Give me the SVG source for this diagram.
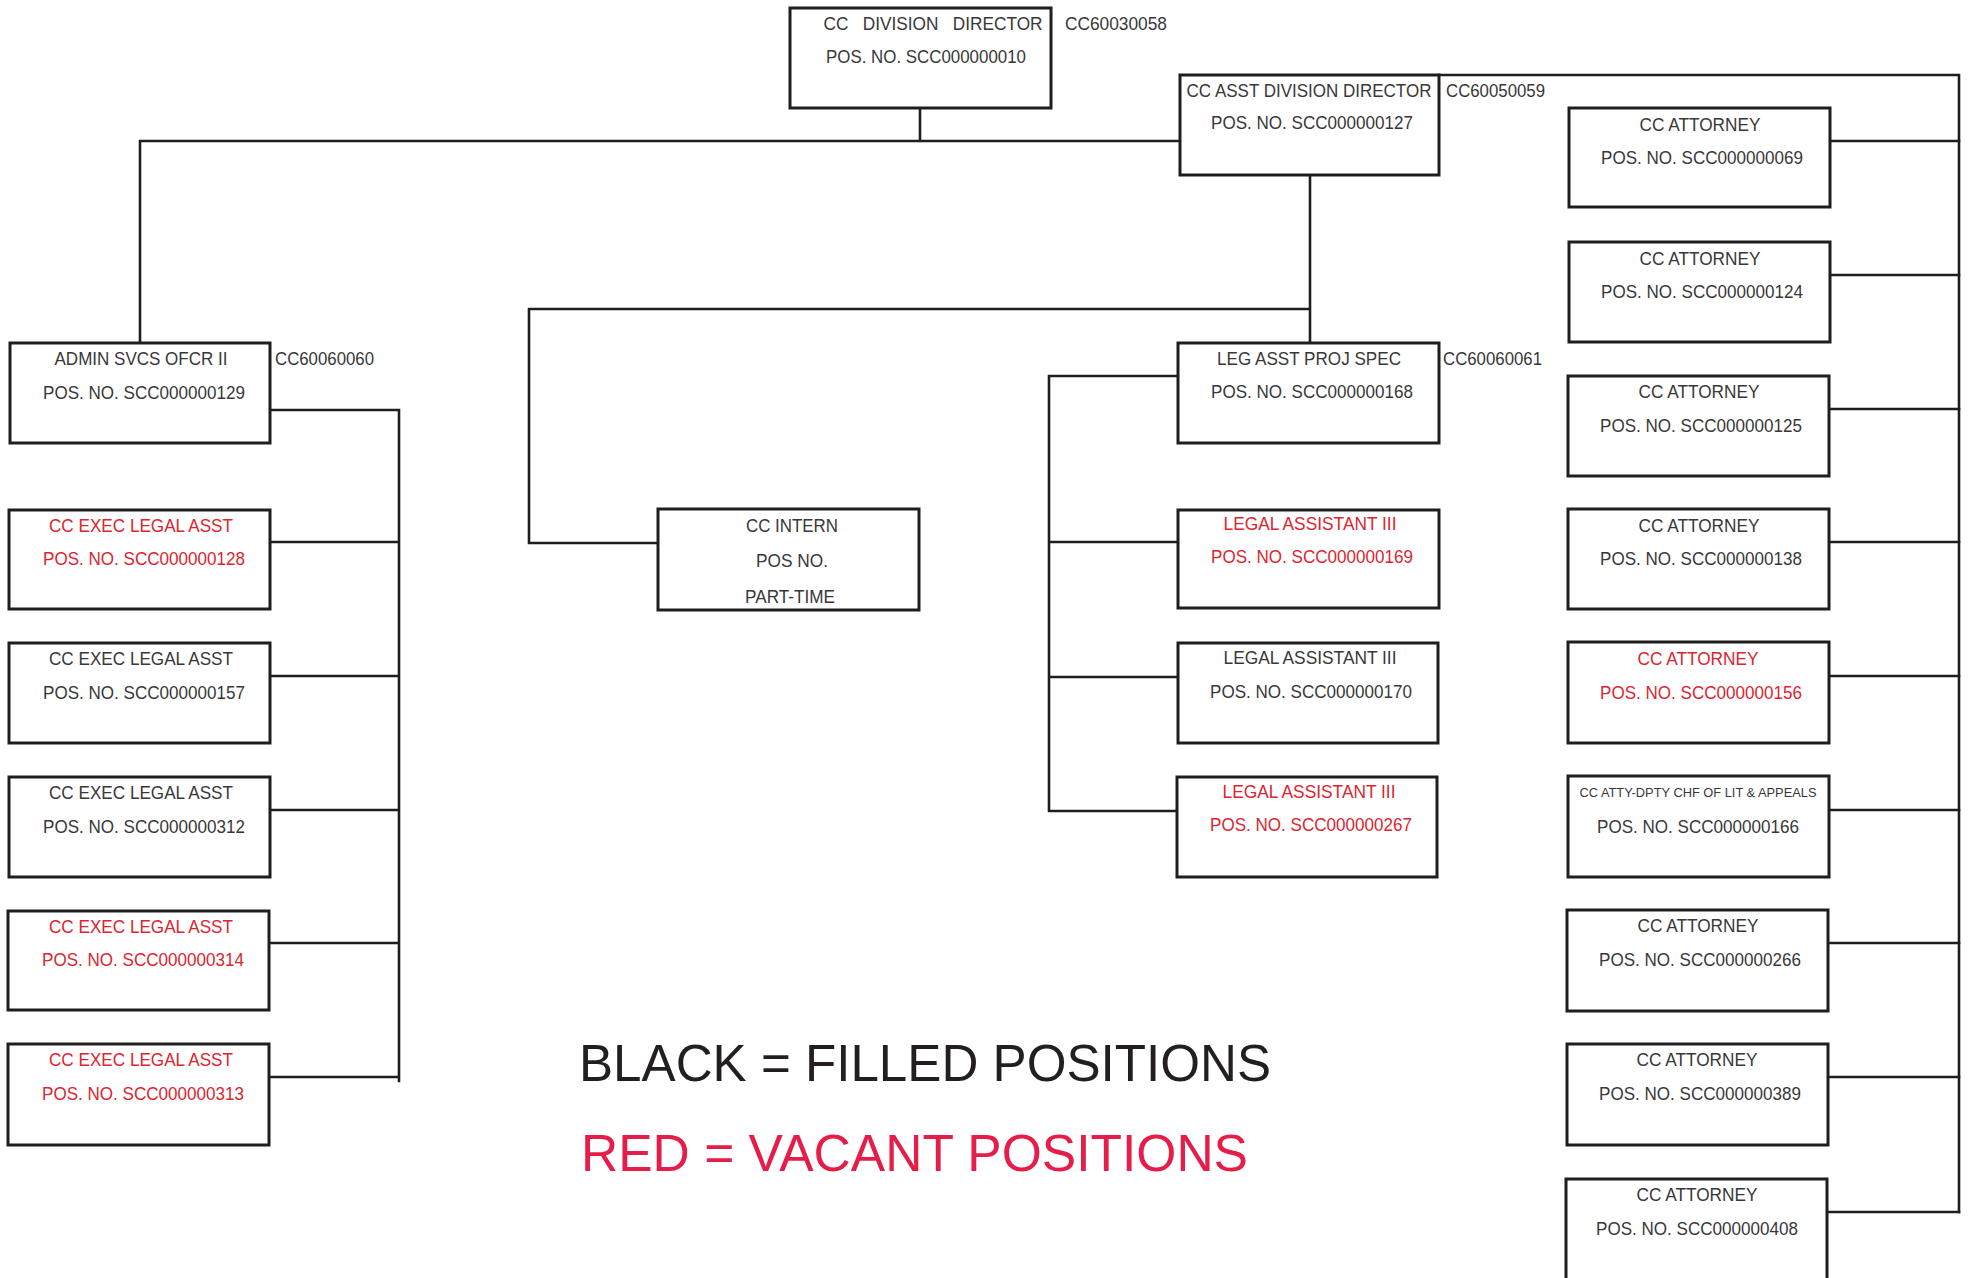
<svg xmlns="http://www.w3.org/2000/svg" width="1969" height="1278" viewBox="0 0 1969 1278">
<style>
.box{fill:#fff;stroke:#1e1e1e;stroke-width:3}
.ln{fill:none;stroke:#1e1e1e;stroke-width:2.6;stroke-linecap:square}
.t{font-family:"Liberation Sans",Arial,sans-serif;font-size:19px;fill:#383838;text-anchor:middle}
.r{fill:#dc2530}
.code{font-family:"Liberation Sans",Arial,sans-serif;font-size:19px;fill:#383838}
.sm{font-size:13.5px}
.lg{font-family:"Liberation Sans",Arial,sans-serif;font-size:51px}
</style>
<rect width="1969" height="1278" fill="#fff"/>
<g id="connectors">
<path class="ln" d="M920 108V141M140 141H1180M140 141V343"/>
<path class="ln" d="M1439 75H1959V1212"/>
<path class="ln" d="M1829 141H1959M1829 275H1959M1829 409H1959M1829 542H1959M1829 676H1959M1829 810H1959M1829 943H1959M1829 1077H1959M1829 1212H1959"/>
<path class="ln" d="M1310 175V343M529 309H1310M529 309V543H658"/>
<path class="ln" d="M1178 376H1049V811M1049 542H1178M1049 677H1178M1049 811H1178"/>
<path class="ln" d="M270 410H399V1081M270 542H399M270 676H399M270 810H399M270 943H399M270 1077H399"/>
</g>
<g id="director">
<rect class="box" x="790" y="8" width="261" height="100"/>
<text class="t" x="933" y="30" textLength="219" lengthAdjust="spacingAndGlyphs" xml:space="preserve" style="white-space:pre">CC   DIVISION   DIRECTOR</text>
<text class="t" x="926" y="63" textLength="200" lengthAdjust="spacingAndGlyphs">POS. NO. SCC000000010</text>
<text class="code" x="1065" y="30" textLength="102" lengthAdjust="spacingAndGlyphs">CC60030058</text>
</g>
<g id="asst-director">
<rect class="box" x="1180" y="75" width="259" height="100"/>
<text class="t" transform="translate(1309 97) scale(0.895 1)" x="0" y="0">CC ASST DIVISION DIRECTOR</text>
<text class="t" x="1312" y="129" textLength="202" lengthAdjust="spacingAndGlyphs">POS. NO. SCC000000127</text>
<text class="code" x="1446" y="97" textLength="99" lengthAdjust="spacingAndGlyphs">CC60050059</text>
</g>
<g id="admin">
<rect class="box" x="10" y="343" width="260" height="100"/>
<text class="t" x="141" y="365" textLength="173" lengthAdjust="spacingAndGlyphs">ADMIN SVCS OFCR II</text>
<text class="t" x="144" y="399" textLength="202" lengthAdjust="spacingAndGlyphs">POS. NO. SCC000000129</text>
<text class="code" x="275" y="365" textLength="99" lengthAdjust="spacingAndGlyphs">CC60060060</text>
</g>
<g id="exec128">
<rect class="box" x="9" y="510" width="261" height="99"/>
<text class="t r" x="141" y="532" textLength="184" lengthAdjust="spacingAndGlyphs">CC EXEC LEGAL ASST</text>
<text class="t r" x="144" y="565" textLength="202" lengthAdjust="spacingAndGlyphs">POS. NO. SCC000000128</text>
</g>
<g id="exec157">
<rect class="box" x="9" y="643" width="261" height="100"/>
<text class="t" x="141" y="665" textLength="184" lengthAdjust="spacingAndGlyphs">CC EXEC LEGAL ASST</text>
<text class="t" x="144" y="699" textLength="202" lengthAdjust="spacingAndGlyphs">POS. NO. SCC000000157</text>
</g>
<g id="exec312">
<rect class="box" x="9" y="777" width="261" height="100"/>
<text class="t" x="141" y="799" textLength="184" lengthAdjust="spacingAndGlyphs">CC EXEC LEGAL ASST</text>
<text class="t" x="144" y="833" textLength="202" lengthAdjust="spacingAndGlyphs">POS. NO. SCC000000312</text>
</g>
<g id="exec314">
<rect class="box" x="8" y="911" width="261" height="99"/>
<text class="t r" x="141" y="933" textLength="184" lengthAdjust="spacingAndGlyphs">CC EXEC LEGAL ASST</text>
<text class="t r" x="143" y="966" textLength="202" lengthAdjust="spacingAndGlyphs">POS. NO. SCC000000314</text>
</g>
<g id="exec313">
<rect class="box" x="8" y="1044" width="261" height="101"/>
<text class="t r" x="141" y="1066" textLength="184" lengthAdjust="spacingAndGlyphs">CC EXEC LEGAL ASST</text>
<text class="t r" x="143" y="1100" textLength="202" lengthAdjust="spacingAndGlyphs">POS. NO. SCC000000313</text>
</g>
<g id="intern">
<rect class="box" x="658" y="509" width="261" height="101"/>
<text class="t" x="792" y="532" textLength="92" lengthAdjust="spacingAndGlyphs">CC INTERN</text>
<text class="t" x="792" y="567" textLength="72" lengthAdjust="spacingAndGlyphs">POS NO.</text>
<text class="t" x="790" y="603" textLength="90" lengthAdjust="spacingAndGlyphs">PART-TIME</text>
</g>
<g id="legprojspec">
<rect class="box" x="1178" y="343" width="261" height="100"/>
<text class="t" x="1309" y="365" textLength="184" lengthAdjust="spacingAndGlyphs">LEG ASST PROJ SPEC</text>
<text class="t" x="1312" y="398" textLength="202" lengthAdjust="spacingAndGlyphs">POS. NO. SCC000000168</text>
<text class="code" x="1443" y="365" textLength="99" lengthAdjust="spacingAndGlyphs">CC60060061</text>
</g>
<g id="legal169">
<rect class="box" x="1178" y="510" width="261" height="98"/>
<text class="t r" x="1310" y="530" textLength="173" lengthAdjust="spacingAndGlyphs">LEGAL ASSISTANT III</text>
<text class="t r" x="1312" y="563" textLength="202" lengthAdjust="spacingAndGlyphs">POS. NO. SCC000000169</text>
</g>
<g id="legal170">
<rect class="box" x="1178" y="643" width="260" height="100"/>
<text class="t" x="1310" y="664" textLength="173" lengthAdjust="spacingAndGlyphs">LEGAL ASSISTANT III</text>
<text class="t" x="1311" y="698" textLength="202" lengthAdjust="spacingAndGlyphs">POS. NO. SCC000000170</text>
</g>
<g id="legal267">
<rect class="box" x="1177" y="777" width="260" height="100"/>
<text class="t r" x="1309" y="798" textLength="173" lengthAdjust="spacingAndGlyphs">LEGAL ASSISTANT III</text>
<text class="t r" x="1311" y="831" textLength="202" lengthAdjust="spacingAndGlyphs">POS. NO. SCC000000267</text>
</g>
<g id="atty069">
<rect class="box" x="1569" y="108" width="261" height="99"/>
<text class="t" x="1700" y="131" textLength="121" lengthAdjust="spacingAndGlyphs">CC ATTORNEY</text>
<text class="t" x="1702" y="164" textLength="202" lengthAdjust="spacingAndGlyphs">POS. NO. SCC000000069</text>
</g>
<g id="atty124">
<rect class="box" x="1569" y="242" width="261" height="100"/>
<text class="t" x="1700" y="265" textLength="121" lengthAdjust="spacingAndGlyphs">CC ATTORNEY</text>
<text class="t" x="1702" y="298" textLength="202" lengthAdjust="spacingAndGlyphs">POS. NO. SCC000000124</text>
</g>
<g id="atty125">
<rect class="box" x="1568" y="376" width="261" height="100"/>
<text class="t" x="1699" y="398" textLength="121" lengthAdjust="spacingAndGlyphs">CC ATTORNEY</text>
<text class="t" x="1701" y="432" textLength="202" lengthAdjust="spacingAndGlyphs">POS. NO. SCC000000125</text>
</g>
<g id="atty138">
<rect class="box" x="1568" y="509" width="261" height="100"/>
<text class="t" x="1699" y="532" textLength="121" lengthAdjust="spacingAndGlyphs">CC ATTORNEY</text>
<text class="t" x="1701" y="565" textLength="202" lengthAdjust="spacingAndGlyphs">POS. NO. SCC000000138</text>
</g>
<g id="atty156">
<rect class="box" x="1568" y="642" width="261" height="101"/>
<text class="t r" x="1698" y="665" textLength="121" lengthAdjust="spacingAndGlyphs">CC ATTORNEY</text>
<text class="t r" x="1701" y="699" textLength="202" lengthAdjust="spacingAndGlyphs">POS. NO. SCC000000156</text>
</g>
<g id="atty166">
<rect class="box" x="1568" y="776" width="261" height="101"/>
<text class="t sm" x="1698" y="797" textLength="237" lengthAdjust="spacingAndGlyphs">CC ATTY-DPTY CHF OF LIT &amp; APPEALS</text>
<text class="t" x="1698" y="833" textLength="202" lengthAdjust="spacingAndGlyphs">POS. NO. SCC000000166</text>
</g>
<g id="atty266">
<rect class="box" x="1567" y="910" width="261" height="101"/>
<text class="t" x="1698" y="932" textLength="121" lengthAdjust="spacingAndGlyphs">CC ATTORNEY</text>
<text class="t" x="1700" y="966" textLength="202" lengthAdjust="spacingAndGlyphs">POS. NO. SCC000000266</text>
</g>
<g id="atty389">
<rect class="box" x="1567" y="1044" width="261" height="101"/>
<text class="t" x="1697" y="1066" textLength="121" lengthAdjust="spacingAndGlyphs">CC ATTORNEY</text>
<text class="t" x="1700" y="1100" textLength="202" lengthAdjust="spacingAndGlyphs">POS. NO. SCC000000389</text>
</g>
<g id="atty408">
<rect class="box" x="1566" y="1179" width="261" height="110"/>
<text class="t" x="1697" y="1201" textLength="121" lengthAdjust="spacingAndGlyphs">CC ATTORNEY</text>
<text class="t" x="1697" y="1235" textLength="202" lengthAdjust="spacingAndGlyphs">POS. NO. SCC000000408</text>
</g>
<g id="legend">
<text class="lg" x="579" y="1081" fill="#231f20" textLength="692" lengthAdjust="spacingAndGlyphs">BLACK = FILLED POSITIONS</text>
<text class="lg" x="581" y="1171" fill="#e51d48" textLength="667" lengthAdjust="spacingAndGlyphs">RED = VACANT POSITIONS</text>
</g>
</svg>
